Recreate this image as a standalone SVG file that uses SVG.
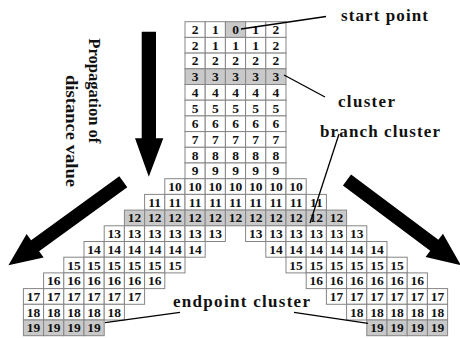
<svg xmlns="http://www.w3.org/2000/svg" xmlns:xlink="http://www.w3.org/1999/xlink" width="460" height="338" viewBox="0 0 460 338">
<style>
.cells use{fill:#fff;stroke:#858585;stroke-width:1}
.cells use.g,.cells .gr use{fill:#c9c9c9}
.cells text{font-family:"Liberation Serif","Times New Roman",serif;font-weight:bold;font-size:13.5px;text-anchor:middle;fill:#111}
.lbl{font-family:"Liberation Serif","Times New Roman",serif;font-weight:bold;font-size:17px;fill:#111}
.rot{font-family:"Liberation Serif","Times New Roman",serif;font-weight:bold;font-size:16.5px;fill:#111}
.arrow{fill:#000}
.conn line{stroke:#000;stroke-width:1.3}
</style>
<defs>
<rect id="c" y="-12.3" width="20.2" height="15.7"/>
<path id="darr" d="M0,-6.8 H109 V-14.5 L142,0 L109,14.5 V6.8 H0 Z"/>
</defs>
<rect width="460" height="338" fill="#fff"/>

<g class="cells" id="grid">
<g id="row0" transform="translate(0,34)">
<use href="#c" x="185"/><use href="#c" x="205.2"/><use href="#c" x="225.4" class="g"/><use href="#c" x="245.6"/><use href="#c" x="265.8"/>
<text x="195.1">2</text><text x="215.3">1</text><text x="235.5">0</text><text x="255.7">1</text><text x="275.9">2</text>
</g>
<g id="row1" transform="translate(0,49.7)">
<use href="#c" x="185"/><use href="#c" x="205.2"/><use href="#c" x="225.4"/><use href="#c" x="245.6"/><use href="#c" x="265.8"/>
<text x="195.1">2</text><text x="215.3">1</text><text x="235.5">1</text><text x="255.7">1</text><text x="275.9">2</text>
</g>
<g id="row2" transform="translate(0,65.4)">
<use href="#c" x="185"/><use href="#c" x="205.2"/><use href="#c" x="225.4"/><use href="#c" x="245.6"/><use href="#c" x="265.8"/>
<text x="195.1">2</text><text x="215.3">2</text><text x="235.5">2</text><text x="255.7">2</text><text x="275.9">2</text>
</g>
<g id="row3" class="gr" transform="translate(0,81.1)">
<use href="#c" x="185"/><use href="#c" x="205.2"/><use href="#c" x="225.4"/><use href="#c" x="245.6"/><use href="#c" x="265.8"/>
<text x="195.1">3</text><text x="215.3">3</text><text x="235.5">3</text><text x="255.7">3</text><text x="275.9">3</text>
</g>
<g id="row4" transform="translate(0,96.8)">
<use href="#c" x="185"/><use href="#c" x="205.2"/><use href="#c" x="225.4"/><use href="#c" x="245.6"/><use href="#c" x="265.8"/>
<text x="195.1">4</text><text x="215.3">4</text><text x="235.5">4</text><text x="255.7">4</text><text x="275.9">4</text>
</g>
<g id="row5" transform="translate(0,112.5)">
<use href="#c" x="185"/><use href="#c" x="205.2"/><use href="#c" x="225.4"/><use href="#c" x="245.6"/><use href="#c" x="265.8"/>
<text x="195.1">5</text><text x="215.3">5</text><text x="235.5">5</text><text x="255.7">5</text><text x="275.9">5</text>
</g>
<g id="row6" transform="translate(0,128.2)">
<use href="#c" x="185"/><use href="#c" x="205.2"/><use href="#c" x="225.4"/><use href="#c" x="245.6"/><use href="#c" x="265.8"/>
<text x="195.1">6</text><text x="215.3">6</text><text x="235.5">6</text><text x="255.7">6</text><text x="275.9">6</text>
</g>
<g id="row7" transform="translate(0,143.9)">
<use href="#c" x="185"/><use href="#c" x="205.2"/><use href="#c" x="225.4"/><use href="#c" x="245.6"/><use href="#c" x="265.8"/>
<text x="195.1">7</text><text x="215.3">7</text><text x="235.5">7</text><text x="255.7">7</text><text x="275.9">7</text>
</g>
<g id="row8" transform="translate(0,159.6)">
<use href="#c" x="185"/><use href="#c" x="205.2"/><use href="#c" x="225.4"/><use href="#c" x="245.6"/><use href="#c" x="265.8"/>
<text x="195.1">8</text><text x="215.3">8</text><text x="235.5">8</text><text x="255.7">8</text><text x="275.9">8</text>
</g>
<g id="row9" transform="translate(0,175.3)">
<use href="#c" x="185"/><use href="#c" x="205.2"/><use href="#c" x="225.4"/><use href="#c" x="245.6"/><use href="#c" x="265.8"/>
<text x="195.1">9</text><text x="215.3">9</text><text x="235.5">9</text><text x="255.7">9</text><text x="275.9">9</text>
</g>
<g id="row10" transform="translate(0,191)">
<use href="#c" x="164.8"/><use href="#c" x="185"/><use href="#c" x="205.2"/><use href="#c" x="225.4"/><use href="#c" x="245.6"/><use href="#c" x="265.8"/><use href="#c" x="286"/>
<text x="174.9">10</text><text x="195.1">10</text><text x="215.3">10</text><text x="235.5">10</text><text x="255.7">10</text><text x="275.9">10</text><text x="296.1">10</text>
</g>
<g id="row11" transform="translate(0,206.7)">
<use href="#c" x="144.6"/><use href="#c" x="164.8"/><use href="#c" x="185"/><use href="#c" x="205.2"/><use href="#c" x="225.4"/><use href="#c" x="245.6"/><use href="#c" x="265.8"/><use href="#c" x="286"/><use href="#c" x="306.2"/>
<text x="154.7">11</text><text x="174.9">11</text><text x="195.1">11</text><text x="215.3">11</text><text x="235.5">11</text><text x="255.7">11</text><text x="275.9">11</text><text x="296.1">11</text><text x="316.3">11</text>
</g>
<g id="row12" class="gr" transform="translate(0,222.4)">
<use href="#c" x="124.4"/><use href="#c" x="144.6"/><use href="#c" x="164.8"/><use href="#c" x="185"/><use href="#c" x="205.2"/><use href="#c" x="225.4"/><use href="#c" x="245.6"/><use href="#c" x="265.8"/><use href="#c" x="286"/><use href="#c" x="306.2"/><use href="#c" x="326.4"/>
<text x="134.5">12</text><text x="154.7">12</text><text x="174.9">12</text><text x="195.1">12</text><text x="215.3">12</text><text x="235.5">12</text><text x="255.7">12</text><text x="275.9">12</text><text x="296.1">12</text><text x="316.3">12</text><text x="336.5">12</text>
</g>
<g id="row13" transform="translate(0,238.1)">
<use href="#c" x="104.2"/><use href="#c" x="124.4"/><use href="#c" x="144.6"/><use href="#c" x="164.8"/><use href="#c" x="185"/><use href="#c" x="205.2"/>
<use href="#c" x="245.6"/><use href="#c" x="265.8"/><use href="#c" x="286"/><use href="#c" x="306.2"/><use href="#c" x="326.4"/><use href="#c" x="346.6"/>
<text x="114.3">13</text><text x="134.5">13</text><text x="154.7">13</text><text x="174.9">13</text><text x="195.1">13</text><text x="215.3">13</text>
<text x="255.7">13</text><text x="275.9">13</text><text x="296.1">13</text><text x="316.3">13</text><text x="336.5">13</text><text x="356.7">13</text>
</g>
<g id="row14" transform="translate(0,253.8)">
<use href="#c" x="84"/><use href="#c" x="104.2"/><use href="#c" x="124.4"/><use href="#c" x="144.6"/><use href="#c" x="164.8"/><use href="#c" x="185"/>
<use href="#c" x="265.8"/><use href="#c" x="286"/><use href="#c" x="306.2"/><use href="#c" x="326.4"/><use href="#c" x="346.6"/><use href="#c" x="366.8"/>
<text x="94.1">14</text><text x="114.3">14</text><text x="134.5">14</text><text x="154.7">14</text><text x="174.9">14</text><text x="195.1">14</text>
<text x="275.9">14</text><text x="296.1">14</text><text x="316.3">14</text><text x="336.5">14</text><text x="356.7">14</text><text x="376.9">14</text>
</g>
<g id="row15" transform="translate(0,269.5)">
<use href="#c" x="63.8"/><use href="#c" x="84"/><use href="#c" x="104.2"/><use href="#c" x="124.4"/><use href="#c" x="144.6"/><use href="#c" x="164.8"/>
<use href="#c" x="286"/><use href="#c" x="306.2"/><use href="#c" x="326.4"/><use href="#c" x="346.6"/><use href="#c" x="366.8"/><use href="#c" x="387"/>
<text x="73.9">15</text><text x="94.1">15</text><text x="114.3">15</text><text x="134.5">15</text><text x="154.7">15</text><text x="174.9">15</text>
<text x="296.1">15</text><text x="316.3">15</text><text x="336.5">15</text><text x="356.7">15</text><text x="376.9">15</text><text x="397.1">15</text>
</g>
<g id="row16" transform="translate(0,285.2)">
<use href="#c" x="43.6"/><use href="#c" x="63.8"/><use href="#c" x="84"/><use href="#c" x="104.2"/><use href="#c" x="124.4"/><use href="#c" x="144.6"/>
<use href="#c" x="306.2"/><use href="#c" x="326.4"/><use href="#c" x="346.6"/><use href="#c" x="366.8"/><use href="#c" x="387"/><use href="#c" x="407.2"/>
<text x="53.7">16</text><text x="73.9">16</text><text x="94.1">16</text><text x="114.3">16</text><text x="134.5">16</text><text x="154.7">16</text>
<text x="316.3">16</text><text x="336.5">16</text><text x="356.7">16</text><text x="376.9">16</text><text x="397.1">16</text><text x="417.3">16</text>
</g>
<g id="row17" transform="translate(0,300.9)">
<use href="#c" x="23.4"/><use href="#c" x="43.6"/><use href="#c" x="63.8"/><use href="#c" x="84"/><use href="#c" x="104.2"/><use href="#c" x="124.4"/>
<use href="#c" x="326.4"/><use href="#c" x="346.6"/><use href="#c" x="366.8"/><use href="#c" x="387"/><use href="#c" x="407.2"/><use href="#c" x="427.4"/>
<text x="33.5">17</text><text x="53.7">17</text><text x="73.9">17</text><text x="94.1">17</text><text x="114.3">17</text><text x="134.5">17</text>
<text x="336.5">17</text><text x="356.7">17</text><text x="376.9">17</text><text x="397.1">17</text><text x="417.3">17</text><text x="437.5">17</text>
</g>
<g id="row18" transform="translate(0,316.6)">
<use href="#c" x="23.4"/><use href="#c" x="43.6"/><use href="#c" x="63.8"/><use href="#c" x="84"/><use href="#c" x="104.2"/>
<use href="#c" x="346.6"/><use href="#c" x="366.8"/><use href="#c" x="387"/><use href="#c" x="407.2"/><use href="#c" x="427.4"/>
<text x="33.5">18</text><text x="53.7">18</text><text x="73.9">18</text><text x="94.1">18</text><text x="114.3">18</text>
<text x="356.7">18</text><text x="376.9">18</text><text x="397.1">18</text><text x="417.3">18</text><text x="437.5">18</text>
</g>
<g id="row19" class="gr" transform="translate(0,332.3)">
<use href="#c" x="23.4"/><use href="#c" x="43.6"/><use href="#c" x="63.8"/><use href="#c" x="84"/>
<use href="#c" x="366.8"/><use href="#c" x="387"/><use href="#c" x="407.2"/><use href="#c" x="427.4"/>
<text x="33.5">19</text><text x="53.7">19</text><text x="73.9">19</text><text x="94.1">19</text>
<text x="376.9">19</text><text x="397.1">19</text><text x="417.3">19</text><text x="437.5">19</text>
</g>
</g>

<g id="arrows" class="arrow">
<path id="arrow-down" d="M141.7,31.7 H156 V138.3 H163.3 L148.8,176.7 L135,138.3 H141.7 Z"/>
<use id="arrow-left" href="#darr" transform="translate(123.3,181.7) rotate(144)"/>
<use id="arrow-right" href="#darr" transform="translate(347,180) rotate(36.8)"/>
</g>

<g id="propagation-label">
<text class="rot" transform="translate(89,38.3) rotate(90)" textLength="105" lengthAdjust="spacingAndGlyphs">Propagation of</text>
<text class="rot" transform="translate(65.5,75) rotate(90)" textLength="112" lengthAdjust="spacingAndGlyphs">distance value</text>
</g>

<g id="connectors" class="conn">
<line x1="241" y1="29" x2="326" y2="16.5"/>
<line x1="284" y1="75" x2="325" y2="97"/>
<line x1="339" y1="134" x2="310" y2="223"/>
<line x1="180" y1="312.3" x2="105" y2="322.7"/>
<line x1="294" y1="312.3" x2="368" y2="323.3"/>
</g>

<g id="label-start"><text class="lbl" x="341" y="21" textLength="87" lengthAdjust="spacing">start point</text></g>
<g id="label-cluster"><text class="lbl" x="338" y="107" textLength="57" lengthAdjust="spacing">cluster</text></g>
<g id="label-branch"><text class="lbl" x="320" y="136.5" textLength="120" lengthAdjust="spacing">branch cluster</text></g>
<g id="label-endpoint"><text class="lbl" x="173" y="306.5" textLength="137" lengthAdjust="spacing">endpoint cluster</text></g>
</svg>
